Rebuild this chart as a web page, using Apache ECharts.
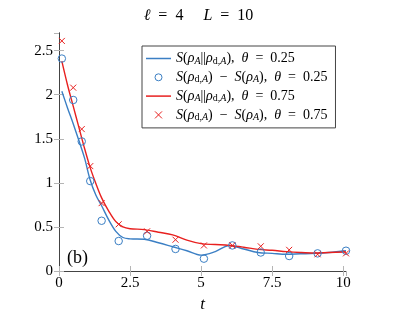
<!DOCTYPE html>
<html>
<head>
<meta charset="utf-8">
<script src="https://cdn.jsdelivr.net/npm/echarts@6/dist/echarts.min.js"></script>
<style>
html,body{margin:0;padding:0;background:#fff;}
#chart{width:397px;height:326px;}
</style>
</head>
<body>
<div id="chart"></div>
<script>
// ---- data ----
var markerT = [0.1, 0.5, 0.8, 1.1, 1.5, 2.1, 3.1, 4.1, 5.1, 6.1, 7.1, 8.1, 9.1, 10.1];
var relBlueMarkers = [2.41, 1.94, 1.47, 1.02, 0.57, 0.34, 0.40, 0.25, 0.14, 0.29, 0.21, 0.17, 0.20, 0.23];
var relRedMarkers  = [2.61, 2.08, 1.61, 1.19, 0.77, 0.53, 0.45, 0.355, 0.29, 0.29, 0.28, 0.24, 0.19, 0.20];

var lineT = [0.1, 0.3, 0.5, 0.7, 0.9, 1.1, 1.3, 1.5, 1.75, 2.0, 2.25, 2.5, 3.0, 3.5, 4.0, 4.5, 5.0, 5.5, 6.0, 6.5, 7.0, 7.5, 8.0, 8.5, 9.0, 9.5, 10.1];
var blueLine = [2.04, 1.85, 1.67, 1.48, 1.28, 1.03, 0.86, 0.74, 0.58, 0.45, 0.38, 0.365, 0.36, 0.32, 0.275, 0.23, 0.18, 0.22, 0.29, 0.25, 0.21, 0.20, 0.19, 0.195, 0.20, 0.21, 0.23];
var redLine  = [2.38, 2.11, 1.87, 1.63, 1.39, 1.17, 0.99, 0.83, 0.68, 0.56, 0.50, 0.48, 0.47, 0.44, 0.41, 0.35, 0.31, 0.30, 0.29, 0.27, 0.245, 0.235, 0.22, 0.21, 0.205, 0.21, 0.215];

var xTicks = [0, 2.5, 5, 7.5, 10];
var yTicks = [0, 0.5, 1, 1.5, 2, 2.5];

var seriesNames = [
  'S(ρA||ρd,A), θ = 0.25',
  'S(ρd,A) − S(ρA), θ = 0.25',
  'S(ρA||ρd,A), θ = 0.75',
  'S(ρd,A) − S(ρA), θ = 0.75'
];

// ---- style ----
var BLUE = '#3b7fc4';
var RED = '#e8201f';
var FONT = 'Liberation Serif';
var LINE_ICON = 'path://M0,0h25v1.5h-25z';
var CROSS = 'path://M0,0L10,10M10,0L0,10';

function zip(xs, ys) { return xs.map(function (x, i) { return [x, ys[i]]; }); }

var richLegend = {
  i:  {fontFamily: FONT, fontSize: 14, fontStyle: 'italic', lineHeight: 15, color: '#000'},
  r:  {fontFamily: FONT, fontSize: 14, lineHeight: 15, color: '#000'},
  si: {fontFamily: FONT, fontSize: 10, fontStyle: 'italic', lineHeight: 9, verticalAlign: 'bottom', color: '#000'},
  sr: {fontFamily: FONT, fontSize: 10, lineHeight: 9, verticalAlign: 'bottom', color: '#000'}
};
var relText = '{i|S}{r|(}{i|ρ}{si|A}{r|||}{i|ρ}{sr|d,}{si|A}{r|),  }{i|θ}{r|  =  ';
var diffText = '{i|S}{r|(}{i|ρ}{sr|d,}{si|A}{r|)  −  }{i|S}{r|(}{i|ρ}{si|A}{r|),  }{i|θ}{r|  =  ';
var legendMap = {};
legendMap[seriesNames[0]] = relText + '0.25}';
legendMap[seriesNames[1]] = diffText + '0.25}';
legendMap[seriesNames[2]] = relText + '0.75}';
legendMap[seriesNames[3]] = diffText + '0.75}';

function fmtTick(list) {
  return function (v) {
    for (var k = 0; k < list.length; k++) if (Math.abs(list[k] - v) < 1e-9) return String(list[k]);
    return '';
  };
}

var axisLineStyle = {color: '#444', width: 1};
var tickStyle = {color: '#b5b5b5', width: 1};

var chart = echarts.init(document.getElementById('chart'), null, {renderer: 'canvas'});
chart.setOption({
  animation: false,
  backgroundColor: '#fff',
  title: [{
    text: '{i|ℓ}{r|  =  4}{g|}{i|L}{r|  =  10}',
    left: 'center', top: 3,
    textStyle: {fontFamily: FONT, fontSize: 16, fontWeight: 'normal', color: '#000', rich: {
      i: {fontFamily: FONT, fontSize: 16, fontStyle: 'italic', fontWeight: 'normal', color: '#000'},
      r: {fontFamily: FONT, fontSize: 16, fontWeight: 'normal', color: '#000'},
      g: {width: 20}
    }}
  }, {
    text: '(b)', left: 62, top: 244,
    textStyle: {fontFamily: FONT, fontSize: 18, fontWeight: 'normal', color: '#000'}
  }],
  grid: {left: 59, top: 33, right: 51, bottom: 55},
  legend: {
    orient: 'vertical',
    left: 142, top: 46,
    padding: [5.5, 8, 5.5, 4],
    itemGap: 4.3,
    itemWidth: 25, itemHeight: 7,
    backgroundColor: '#fff',
    borderColor: '#444', borderWidth: 1,
    itemStyle: {borderWidth: 1},
    data: [
      {name: seriesNames[0], icon: LINE_ICON},
      {name: seriesNames[1], icon: 'circle'},
      {name: seriesNames[2], icon: LINE_ICON},
      {name: seriesNames[3], icon: CROSS}
    ],
    formatter: function (n) { return legendMap[n]; },
    textStyle: {rich: richLegend}
  },
  xAxis: [{
    type: 'value', min: 0, max: 10.1, interval: 2.5,
    position: 'bottom',
    name: 't', nameLocation: 'middle', nameGap: 19,
    nameTextStyle: {fontFamily: FONT, fontSize: 17, fontStyle: 'italic', color: '#000'},
    axisLine: {show: true, lineStyle: axisLineStyle},
    axisTick: {show: true, inside: true, length: 5, lineStyle: tickStyle},
    axisLabel: {show: true, margin: 5, showMaxLabel: false, formatter: fmtTick(xTicks),
      fontFamily: FONT, fontSize: 15, color: '#000'},
    splitLine: {show: false}
  }, {
    type: 'value', min: 0, max: 10.1, interval: 2.5,
    position: 'top',
    axisLine: {show: true, lineStyle: axisLineStyle},
    axisTick: {show: true, inside: true, length: 5, lineStyle: tickStyle},
    axisLabel: {show: false},
    splitLine: {show: false}
  }],
  yAxis: [{
    type: 'value', min: 0, max: 2.7, interval: 0.5,
    position: 'left',
    axisLine: {show: true, lineStyle: axisLineStyle},
    axisTick: {show: true, inside: true, length: 5, lineStyle: tickStyle},
    axisLabel: {show: true, margin: 6, showMaxLabel: false, formatter: fmtTick(yTicks),
      fontFamily: FONT, fontSize: 15, color: '#000'},
    splitLine: {show: false}
  }, {
    type: 'value', min: 0, max: 2.7, interval: 0.5,
    position: 'right',
    axisLine: {show: true, lineStyle: axisLineStyle},
    axisTick: {show: true, inside: true, length: 5, lineStyle: tickStyle},
    axisLabel: {show: false},
    splitLine: {show: false}
  }],
  series: [{
    name: seriesNames[0], type: 'line', smooth: 0.35,
    symbol: 'none', showSymbol: false,
    lineStyle: {color: BLUE, width: 1.4}, itemStyle: {color: BLUE},
    data: zip(lineT, blueLine), z: 2
  }, {
    name: seriesNames[1], type: 'scatter',
    symbol: 'circle', symbolSize: 7.5,
    itemStyle: {color: 'rgba(0,0,0,0)', borderColor: BLUE, borderWidth: 1, opacity: 1},
    data: zip(markerT, relBlueMarkers), z: 3
  }, {
    name: seriesNames[2], type: 'line', smooth: 0.35,
    symbol: 'none', showSymbol: false,
    lineStyle: {color: RED, width: 1.4}, itemStyle: {color: RED},
    data: zip(lineT, redLine), z: 2
  }, {
    name: seriesNames[3], type: 'scatter',
    symbol: CROSS, symbolSize: 6,
    itemStyle: {color: 'rgba(0,0,0,0)', borderColor: RED, borderWidth: 1, opacity: 1},
    data: zip(markerT, relRedMarkers), z: 3
  }]
});
</script>
</body>
</html>
